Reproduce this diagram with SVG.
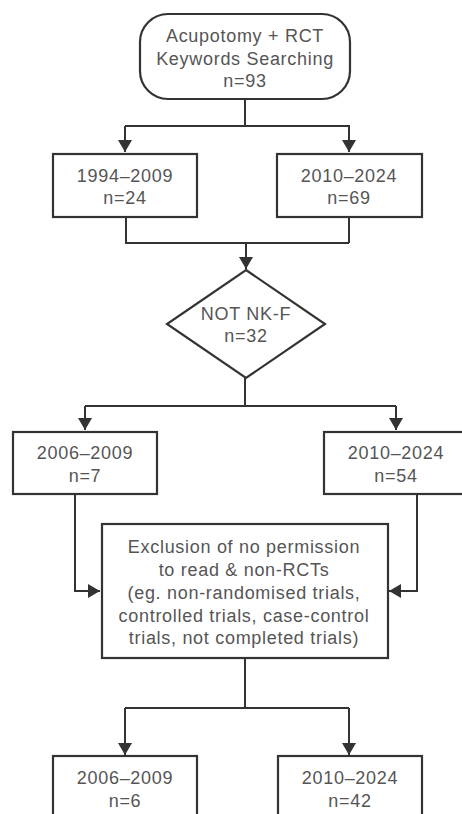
<svg xmlns="http://www.w3.org/2000/svg" width="462" height="814" viewBox="0 0 462 814">
<defs>
<marker id="ah" viewBox="0 0 12 14" refX="12" refY="7" markerWidth="12" markerHeight="14" markerUnits="userSpaceOnUse" orient="auto">
<path d="M0,0 L12,7 L0,14 Z" fill="#333"/>
</marker>
</defs>
<style>
.n{fill:#fff;stroke:#333;stroke-width:2.2}
.t{font-family:"Liberation Sans",Arial,sans-serif;font-size:18px;letter-spacing:0.7px;fill:#555;text-anchor:middle}
.c{fill:none;stroke:#333;stroke-width:2}
</style>
<rect width="462" height="814" fill="#fff"/>
<g id="connectors">
<path class="c" d="M245,99 V126 M125,126 H350"/>
<path class="c" d="M125,126 V152" marker-end="url(#ah)"/>
<path class="c" d="M349,126 V152" marker-end="url(#ah)"/>
<path class="c" d="M126,217 V243 H349 M349,217 V243"/>
<path class="c" d="M246,243 V269" marker-end="url(#ah)"/>
<path class="c" d="M245,378 V406 M85,406 H396"/>
<path class="c" d="M85,406 V430" marker-end="url(#ah)"/>
<path class="c" d="M396,406 V430" marker-end="url(#ah)"/>
<path class="c" d="M75,494 V591 H100" marker-end="url(#ah)"/>
<path class="c" d="M417,494 V591 H389" marker-end="url(#ah)"/>
<path class="c" d="M245,658 V708 M125,708 H349"/>
<path class="c" d="M125,708 V755" marker-end="url(#ah)"/>
<path class="c" d="M349,708 V755" marker-end="url(#ah)"/>
</g>
<g id="n_search">
<rect class="n" x="140" y="14" width="210" height="85" rx="28"/>
<text class="t" x="245" y="42">Acupotomy + RCT</text>
<text class="t" x="245" y="65">Keywords Searching</text>
<text class="t" x="245" y="87">n=93</text>
</g>
<g id="n_1994">
<rect class="n" x="53" y="154" width="144" height="63"/>
<text class="t" x="125" y="182">1994–2009</text>
<text class="t" x="125" y="204">n=24</text>
</g>
<g id="n_2010a">
<rect class="n" x="277" y="154" width="145" height="63"/>
<text class="t" x="349" y="182">2010–2024</text>
<text class="t" x="349" y="204">n=69</text>
</g>
<g id="n_notnkf">
<polygon class="n" points="246,270 325,324 246,378 167,324"/>
<text class="t" x="246" y="320">NOT NK-F</text>
<text class="t" x="246" y="342">n=32</text>
</g>
<g id="n_2006a">
<rect class="n" x="13" y="432" width="144" height="62"/>
<text class="t" x="85" y="459">2006–2009</text>
<text class="t" x="85" y="482">n=7</text>
</g>
<g id="n_2010b">
<rect class="n" x="324" y="432" width="146" height="62"/>
<text class="t" x="396" y="459">2010–2024</text>
<text class="t" x="396" y="482">n=54</text>
</g>
<g id="n_exclusion">
<rect class="n" x="102" y="524" width="286" height="134"/>
<text class="t" x="244" y="553">Exclusion of no permission</text>
<text class="t" x="244" y="576">to read &amp; non-RCTs</text>
<text class="t" x="244" y="599">(eg. non-randomised trials,</text>
<text class="t" x="244" y="622">controlled trials, case-control</text>
<text class="t" x="244" y="644">trials, not completed trials)</text>
</g>
<g id="n_2006b">
<rect class="n" x="53" y="756" width="144" height="70"/>
<text class="t" x="125" y="784">2006–2009</text>
<text class="t" x="125" y="807">n=6</text>
</g>
<g id="n_2010c">
<rect class="n" x="278" y="756" width="144" height="70"/>
<text class="t" x="350" y="784">2010–2024</text>
<text class="t" x="350" y="807">n=42</text>
</g>
</svg>
